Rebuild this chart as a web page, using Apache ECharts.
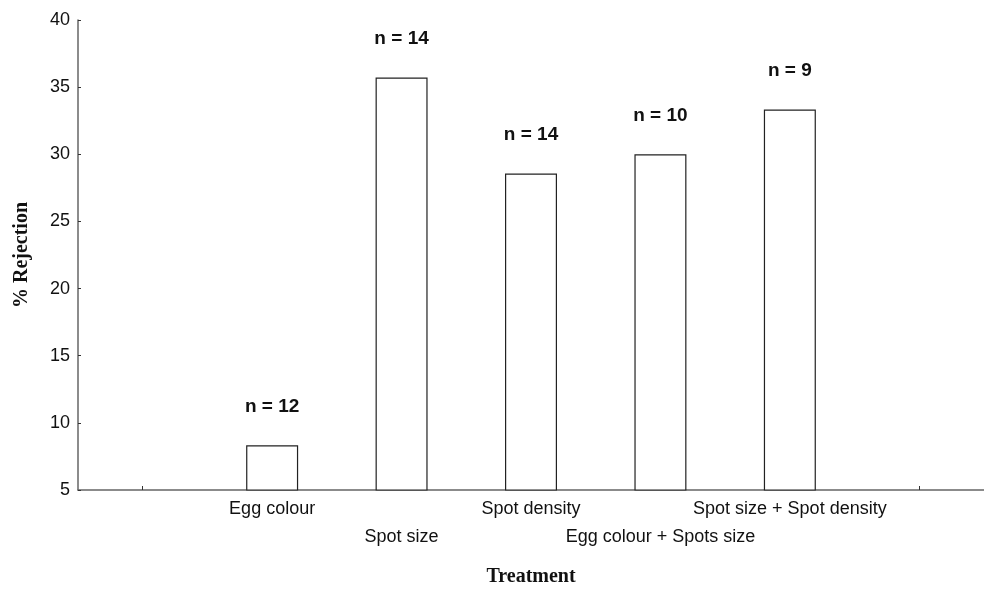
<!DOCTYPE html>
<html>
<head>
<meta charset="utf-8">
<script src="https://cdn.jsdelivr.net/npm/echarts@6/dist/echarts.min.js"></script>
<style>
html,body{margin:0;padding:0;background:#fff;}
#chart{width:984px;height:592px;}
</style>
</head>
<body>
<div id="chart"></div>
<script>
var categories = ['', 'Egg colour', 'Spot size', 'Spot density', 'Egg colour + Spots size', 'Spot size + Spot density', ''];
var rejection = [null, 8.33, 35.71, 28.57, 30.0, 33.33, null];
var sampleSizes = [null, 12, 14, 14, 10, 9, null];
var yTicks = [5, 10, 15, 20, 25, 30, 35, 40];

var chart = echarts.init(document.getElementById('chart'), null, {renderer: 'canvas'});
chart.setOption({
  animation: false,
  backgroundColor: '#ffffff',
  grid: {left: 78, right: 0, top: 20, bottom: 95, containLabel: false},
  xAxis: {
    type: 'category',
    data: categories,
    boundaryGap: true,
    name: 'Treatment',
    nameLocation: 'middle',
    nameGap: 77,
    nameTextStyle: {fontFamily: 'Liberation Serif', fontWeight: 'bold', fontSize: 20, color: '#111'},
    axisLine: {lineStyle: {color: '#666', width: 1.5}},
    axisTick: {show: true, alignWithLabel: true, inside: true, length: 4, lineStyle: {color: '#333'}},
    axisLabel: {
      interval: 0,
      margin: 5,
      fontFamily: 'Liberation Sans',
      fontSize: 18,
      color: '#111',
      lineHeight: 28,
      formatter: function (v, i) { return (i % 2 === 0 && v) ? '\n' + v : v; }
    },
    splitLine: {show: false}
  },
  yAxis: {
    type: 'value',
    min: yTicks[0],
    max: yTicks[yTicks.length - 1],
    interval: 5,
    name: '% Rejection',
    nameLocation: 'middle',
    nameGap: 46,
    nameTextStyle: {fontFamily: 'Liberation Serif', fontWeight: 'bold', fontSize: 20, color: '#111'},
    axisLine: {show: true, lineStyle: {color: '#666', width: 1.5}},
    axisTick: {show: true, inside: true, length: 3, lineStyle: {color: '#333'}},
    axisLabel: {margin: 8, fontFamily: 'Liberation Sans', fontSize: 18, color: '#111'},
    splitLine: {show: false}
  },
  series: [{
    type: 'bar',
    data: rejection,
    barWidth: 52,
    itemStyle: {color: '#ffffff', borderColor: '#222', borderWidth: 1.2},
    label: {
      show: true,
      position: 'top',
      distance: 29,
      fontFamily: 'Liberation Sans',
      fontWeight: 'bold',
      fontSize: 19,
      color: '#111',
      formatter: function (p) { var n = sampleSizes[p.dataIndex]; return n == null ? '' : 'n = ' + n; }
    }
  }]
});
</script>
</body>
</html>
